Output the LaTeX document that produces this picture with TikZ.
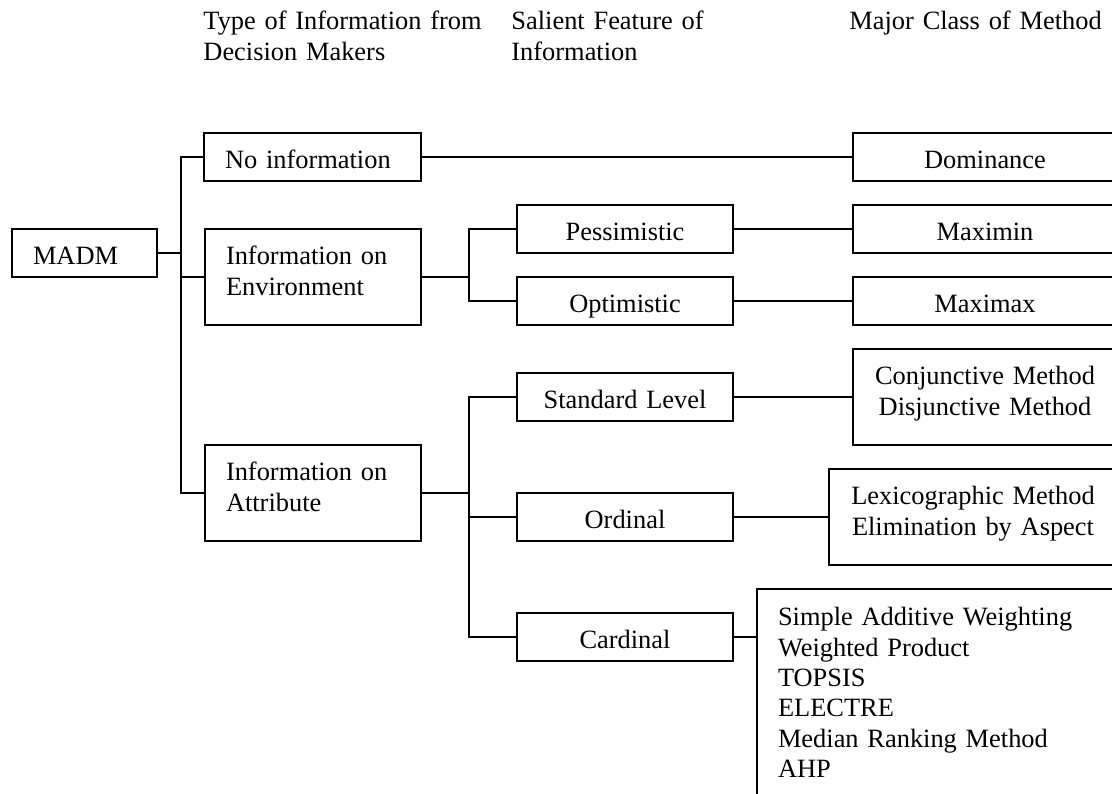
\documentclass[tikz,border=0pt]{standalone}
\usepackage{fontspec}
\setmainfont{Liberation Serif}
\newcommand\pxl{0.4545pt}
\begin{document}
\begin{tikzpicture}[
  x=\pxl, y=-\pxl,
  every node/.style={font=\fontsize{12pt}{13.8pt}\selectfont, inner sep=0pt},
  box/.style={draw, line width=0.75pt},
  wh/.style 2 args={minimum width=#1*\pxl, minimum height=#2*\pxl},
  oneline/.style={text height=10.2pt, text depth=0pt},
  toplines/.style={text height=0pt, text depth=#1},
  lefttext/.style={align=left, text width=#1*\pxl, inner xsep=21*\pxl},
  ctext/.style={align=center, text width=#1*\pxl},
  head/.style={anchor=base west, align=left, text width=150pt},
  link/.style={line width=0.75pt}
]
\useasboundingbox (0,0) rectangle (1112,794);
\clip (0,0) rectangle (1112,794);

% column headings
\node[head] (h1) at (203,30) {Type of Information from\\Decision Makers};
\node[head] (h2) at (511,30) {Salient Feature of\\Information};
\node[head] (h3) at (849,30) {Major Class of Method};

% root
\node[box, wh={145}{48}, oneline, lefttext=103] (madm) at (84.5,253) {MADM};

% type of information
\node[box, wh={217}{48}, oneline, lefttext=175] (noinfo) at (312.5,157) {No information};
\node[box, wh={216}{96}, toplines=11.1pt, lefttext=174] (env) at (313,277) {Information on\\Environment};
\node[box, wh={216}{96}, toplines=11.1pt, lefttext=174] (attr) at (313,493) {Information on\\Attribute};

% salient feature
\node[box, wh={216}{48}, oneline, ctext=200] (pess) at (625,229) {Pessimistic};
\node[box, wh={216}{48}, oneline, ctext=200] (opt)  at (625,301) {Optimistic};
\node[box, wh={216}{48}, oneline, ctext=200] (std)  at (625,397) {Standard Level};
\node[box, wh={216}{48}, oneline, ctext=200] (ord)  at (625,517) {Ordinal};
\node[box, wh={216}{48}, oneline, ctext=200] (card) at (625,637) {Cardinal};

% major class of method
\node[box, wh={264}{48}, oneline, ctext=240] (dom)    at (985,157) {Dominance};
\node[box, wh={264}{48}, oneline, ctext=240] (maxmin) at (985,229) {Maximin};
\node[box, wh={264}{48}, oneline, ctext=240] (maxmax) at (985,301) {Maximax};
\node[box, wh={264}{96}, toplines=11.1pt, ctext=240] (conj) at (985,397)
  {Conjunctive Method\\Disjunctive Method};
\node[box, wh={288}{96}, toplines=11.1pt, ctext=264] (lexi) at (973,517)
  {Lexicographic Method\\Elimination by Aspect};
\node[box, wh={368}{226}, toplines=69.2pt, lefttext=326] (cmeth) at (941,702)
  {Simple Additive Weighting\\Weighted Product\\TOPSIS\\ELECTRE\\Median Ranking Method\\AHP};

% bus lines
\coordinate (trunk) at (181,0);
\coordinate (bus) at (469,0);

\draw[link] (madm.east) -- (madm.east -| trunk);
\draw[link] (noinfo.west) -| (trunk |- attr.west) -- (attr.west);
\draw[link] (env.west) -- (env.west -| trunk);

\draw[link] (noinfo.east) -- (dom.west);

\draw[link] (env.east) -- (env.east -| bus);
\draw[link] (pess.west) -| (bus |- opt.west) -- (opt.west);
\draw[link] (pess.east) -- (maxmin.west);
\draw[link] (opt.east) -- (maxmax.west);

\draw[link, line width=1.1pt] (attr.east) -- (attr.east -| bus);
\draw[link] (std.west) -| (bus |- card.west) -- (card.west);
\draw[link] (ord.west) -- (ord.west -| bus);
\draw[link] (std.east) -- (conj.west);
\draw[link] (ord.east) -- (lexi.west);
\draw[link] (card.east) -- (card.east -| cmeth.west);
\end{tikzpicture}
\end{document}
